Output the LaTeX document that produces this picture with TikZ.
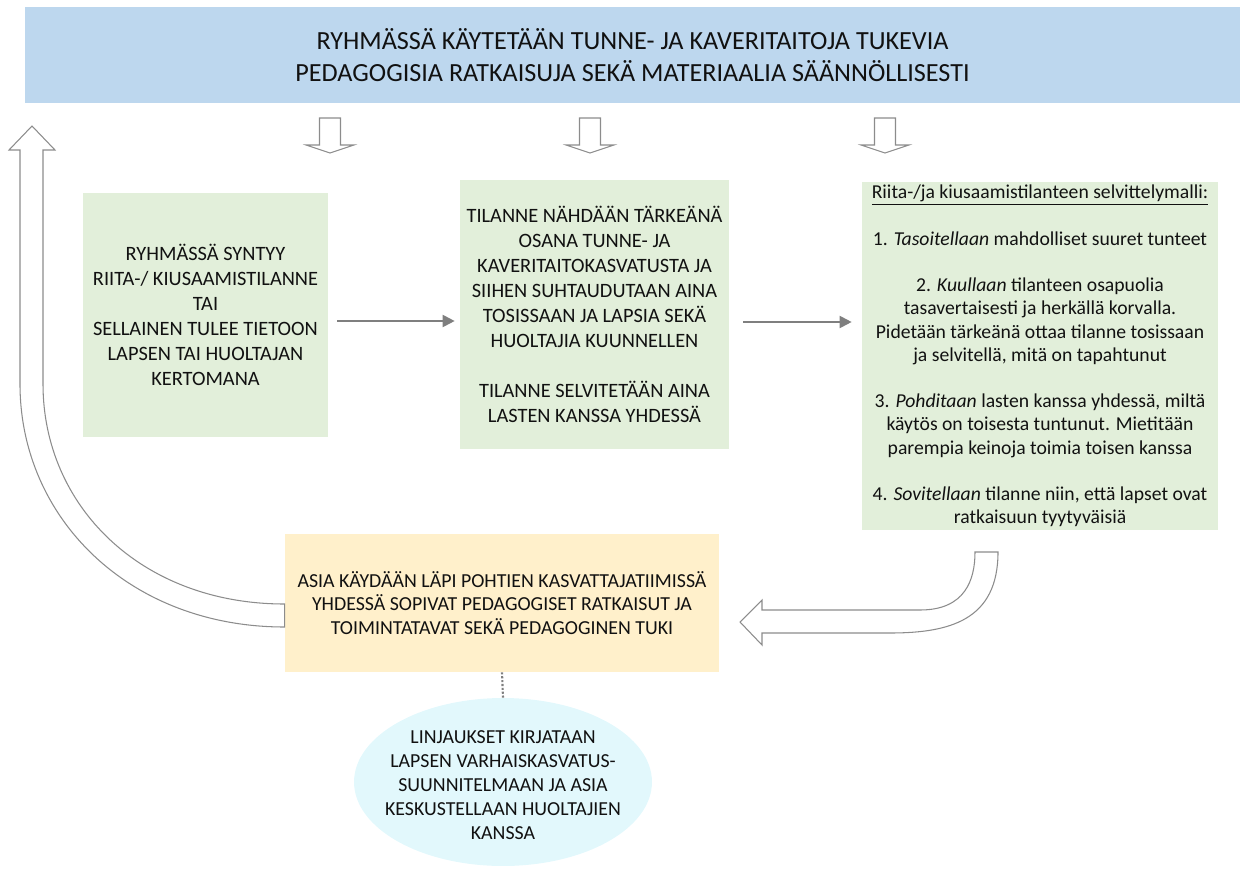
\documentclass[tikz,border=0pt]{standalone}
\usepackage{fontspec}
\setmainfont{Carlito}
\usepackage{tikz}
\usetikzlibrary{
  arrows.meta,
  shapes.geometric,
  positioning,
  calc
}
\definecolor{vkTop}{HTML}{BDD7EE}
\definecolor{vkGreen}{HTML}{E2EFDA}
\definecolor{vkSand}{HTML}{FFF0CB}
\definecolor{vkSky}{HTML}{E2F8FC}
\definecolor{vkArrow}{HTML}{7F7F7F}
\definecolor{vkLine}{HTML}{8C8C8C}
\definecolor{vkText}{HTML}{111111}
\tikzset{
  vkbox/.style={inner sep=0pt, align=center, text=vkText},
  topbar/.style={vkbox, fill=vkTop, minimum width=24.3cm, minimum height=1.94cm,
    font=\fontsize{14.9}{18.2}\selectfont},
  stagebox/.style={vkbox, fill=vkGreen, font=\fontsize{11.6}{14.2}\selectfont},
  modelbox/.style={vkbox, fill=vkGreen, font=\fontsize{11.2}{13.2}\selectfont},
  teambox/.style={vkbox, fill=vkSand, minimum width=8.68cm, minimum height=2.76cm,
    font=\fontsize{11.3}{13.6}\selectfont},
  planbubble/.style={ellipse, fill=vkSky, minimum width=5.96cm, minimum height=3.36cm},
  plantext/.style={vkbox, font=\fontsize{11.3}{13.7}\selectfont},
  flow/.style={-{Triangle[length=0.24cm, width=0.24cm]}, line width=1.1pt, vkArrow},
  hollow/.style={draw=vkLine, fill=white, line width=0.6pt},
  dotlink/.style={densely dotted, line width=1.2pt, vkArrow}
}

\begin{document}
\begin{tikzpicture}[x=0.02cm, y=-0.02cm]
  \useasboundingbox (0,0) rectangle (1240,872);

  \node[topbar] (top) at (632.5,55) {RYHMÄSSÄ KÄYTETÄÄN TUNNE- JA KAVERITAITOJA TUKEVIA\\PEDAGOGISIA RATKAISUJA SEKÄ MATERIAALIA SÄÄNNÖLLISESTI};

  \node[stagebox, minimum width=4.9cm, minimum height=4.88cm] (start) at (205.5,315) {RYHMÄSSÄ SYNTYY\\RIITA-/ KIUSAAMISTILANNE\\TAI\\SELLAINEN TULEE TIETOON\\LAPSEN TAI HUOLTAJAN\\KERTOMANA};
  \node[stagebox, minimum width=5.38cm, minimum height=5.38cm] (serious) at (594.5,314.5) {TILANNE NÄHDÄÄN TÄRKEÄNÄ\\OSANA TUNNE- JA\\KAVERITAITOKASVATUSTA JA\\SIIHEN SUHTAUDUTAAN AINA\\TOSISSAAN JA LAPSIA SEKÄ\\HUOLTAJIA KUUNNELLEN\\[14.2pt]TILANNE SELVITETÄÄN AINA\\LASTEN KANSSA YHDESSÄ};
  \node[modelbox, minimum width=7.12cm, minimum height=6.96cm] (model) at (1040,356) {\underline{Riita-/ja kiusaamistilanteen selvittelymalli:}\\[13.2pt]
    1. \textit{Tasoitellaan} mahdolliset suuret tunteet\\[13.2pt]
    2. \textit{Kuullaan} tilanteen osapuolia\\tasavertaisesti ja herkällä korvalla.\\Pidetään tärkeänä ottaa tilanne tosissaan\\ja selvitellä, mitä on tapahtunut\\[13.2pt]
    3. \textit{Pohditaan} lasten kanssa yhdessä, miltä\\käytös on toisesta tuntunut. Mietitään\\parempia keinoja toimia toisen kanssa\\[13.2pt]
    4. \textit{Sovitellaan} tilanne niin, että lapset ovat\\ratkaisuun tyytyväisiä};
  \node[teambox] (team) at (502,603) {ASIA KÄYDÄÄN LÄPI POHTIEN KASVATTAJATIIMISSÄ\\YHDESSÄ SOPIVAT PEDAGOGISET RATKAISUT JA\\TOIMINTATAVAT SEKÄ PEDAGOGINEN TUKI};
  \node[planbubble] (plan) at (503,782) {};
  \node[plantext] (plantxt) at ([yshift=-0.06cm]plan.center) {LINJAUKSET KIRJATAAN\\LAPSEN VARHAISKASVATUS-\\SUUNNITELMAAN JA ASIA\\KESKUSTELLAAN HUOLTAJIEN\\KANSSA};

  \foreach \cx in {330,590,885}
    \draw[hollow] (\cx-10.5,118) -- (\cx+10.5,118) -- (\cx+10.5,145) -- (\cx+24,145)
      -- (\cx,153) -- (\cx-24,145) -- (\cx-10.5,145) -- cycle;

  \draw[flow] ([xshift=0.18cm, yshift=-0.12cm]start.east) coordinate (f1) -- ($(serious.west |- f1)+(-5,0)$);
  \draw[flow] ([xshift=0.28cm, yshift=-0.15cm]serious.east) coordinate (f2) -- ($(model.west |- f2)+(-10,0)$);

  \draw[hollow] (975,552) -- (998,552) .. controls (998,620) and (950,633) .. (890,633)
    -- (762,633) -- (762,645) -- (740,622) -- (762,600) -- (762,610) -- (920,610)
    .. controls (965,610) and (975,580) .. (975,552) -- cycle;

  \draw[hollow] (team.west |- 0,627) .. controls (129,627) and (20,518) .. (20,384)
    -- (20,150) -- (9,150) -- (32,126) -- (55,150) -- (43,150) -- (43,384)
    .. controls (43,506) and (141,604) .. (team.west |- 0,604) -- cycle;

  \draw[dotlink] (team.south) -- (plan.north);
\end{tikzpicture}
\end{document}
